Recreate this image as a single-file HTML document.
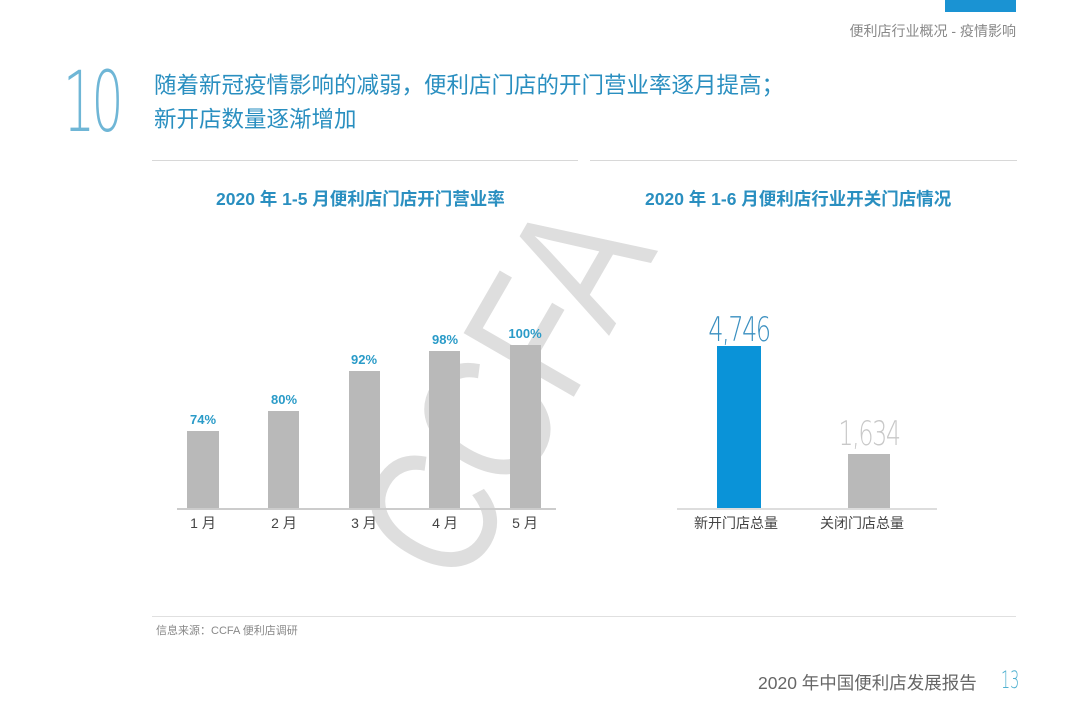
<!DOCTYPE html>
<html><head><meta charset="utf-8"><style>
body{margin:0;width:1080px;height:722px;background:#fff;position:relative;overflow:hidden;font-family:"Liberation Sans","Noto Sans CJK SC",sans-serif}
.a{position:absolute;white-space:nowrap}
.bar{position:absolute;background:#b9b9b9}
.pct{position:absolute;color:#2a9bc8;font-weight:bold;font-size:13px;text-align:center;width:60px}
.xl{position:absolute;color:#444;font-size:14px;text-align:center;width:60px;top:513px}
</style></head><body>
<div class="a" style="left:945px;top:0;width:71px;height:12px;background:#1a93d3"></div>
<div class="a" style="right:64px;top:21px;font-size:14px;color:#888">便利店行业概况 - 疫情影响</div>
<div class="a" style="left:63px;top:52px;font-size:84px;color:#6fb6d6;letter-spacing:-6px;transform:scaleX(0.6);transform-origin:left top;line-height:100px;font-family:'DejaVu Sans',sans-serif;font-weight:200">10</div>
<div class="a" style="left:154px;top:69px;font-size:22.5px;color:#2a8fc0;line-height:34px">随着新冠疫情影响的减弱，便利店门店的开门营业率逐月提高；<br>新开店数量逐渐增加</div>
<div class="a" style="left:152px;top:160px;width:426px;height:1px;background:#d8d8d8"></div>
<div class="a" style="left:590px;top:160px;width:427px;height:1px;background:#d8d8d8"></div>
<div class="a" style="left:216px;top:186px;font-size:17.5px;font-weight:bold;color:#2a8fc0">2020 年 1-5 月便利店门店开门营业率</div>
<div class="a" style="left:645px;top:186px;font-size:17.5px;font-weight:bold;color:#2a8fc0">2020 年 1-6 月便利店行业开关门店情况</div>
<div class="a" style="left:505px;top:390px;font-size:185px;color:#dedede;transform:translate(-50%,-50%) rotate(-60deg) scaleX(0.8);font-family:'Liberation Sans',sans-serif">CCFA</div>
<div class="bar" style="left:187px;top:431px;width:32px;height:77px"></div>
<div class="bar" style="left:268px;top:411px;width:31px;height:97px"></div>
<div class="bar" style="left:349px;top:371px;width:31px;height:137px"></div>
<div class="bar" style="left:429px;top:351px;width:31px;height:157px"></div>
<div class="bar" style="left:510px;top:345px;width:31px;height:163px"></div>
<div class="a" style="left:177px;top:508px;width:379px;height:2px;background:#ccc"></div>
<div class="pct" style="left:173px;top:412px">74%</div>
<div class="pct" style="left:254px;top:392px">80%</div>
<div class="pct" style="left:334px;top:352px">92%</div>
<div class="pct" style="left:415px;top:332px">98%</div>
<div class="pct" style="left:495px;top:326px">100%</div>
<div class="xl" style="left:173px">1 月</div>
<div class="xl" style="left:254px">2 月</div>
<div class="xl" style="left:334px">3 月</div>
<div class="xl" style="left:415px">4 月</div>
<div class="xl" style="left:495px">5 月</div>
<div class="bar" style="left:717px;top:346px;width:44px;height:162px;background:#0a93d8"></div>
<div class="bar" style="left:848px;top:454px;width:42px;height:54px"></div>
<div class="a" style="left:677px;top:508px;width:260px;height:2px;background:#ddd"></div>
<div class="a" style="left:739px;top:310px;transform:translateX(-50%) scaleX(.7);font-size:34px;color:#3a8fc0;font-family:'DejaVu Sans';font-weight:200;letter-spacing:-2px">4,746</div>
<div class="a" style="left:869px;top:414px;transform:translateX(-50%) scaleX(.7);font-size:34px;color:#c8c8c8;font-family:'DejaVu Sans';font-weight:200;letter-spacing:-2px">1,634</div>
<div class="a" style="left:694px;top:513px;font-size:14px;color:#444">新开门店总量</div>
<div class="a" style="left:820px;top:513px;font-size:14px;color:#444">关闭门店总量</div>
<div class="a" style="left:152px;top:616px;width:864px;height:1px;background:#e0e0e0"></div>
<div class="a" style="left:156px;top:622px;font-size:11px;color:#888">信息来源：CCFA 便利店调研</div>
<div class="a" style="left:758px;top:670px;font-size:17.5px;color:#666">2020 年中国便利店发展报告</div>
<div class="a" style="left:1001px;top:666px;font-size:24px;color:#4fb0cf;transform:scaleX(.6);transform-origin:left top;font-family:'DejaVu Sans';font-weight:200">13</div>
</body></html>
